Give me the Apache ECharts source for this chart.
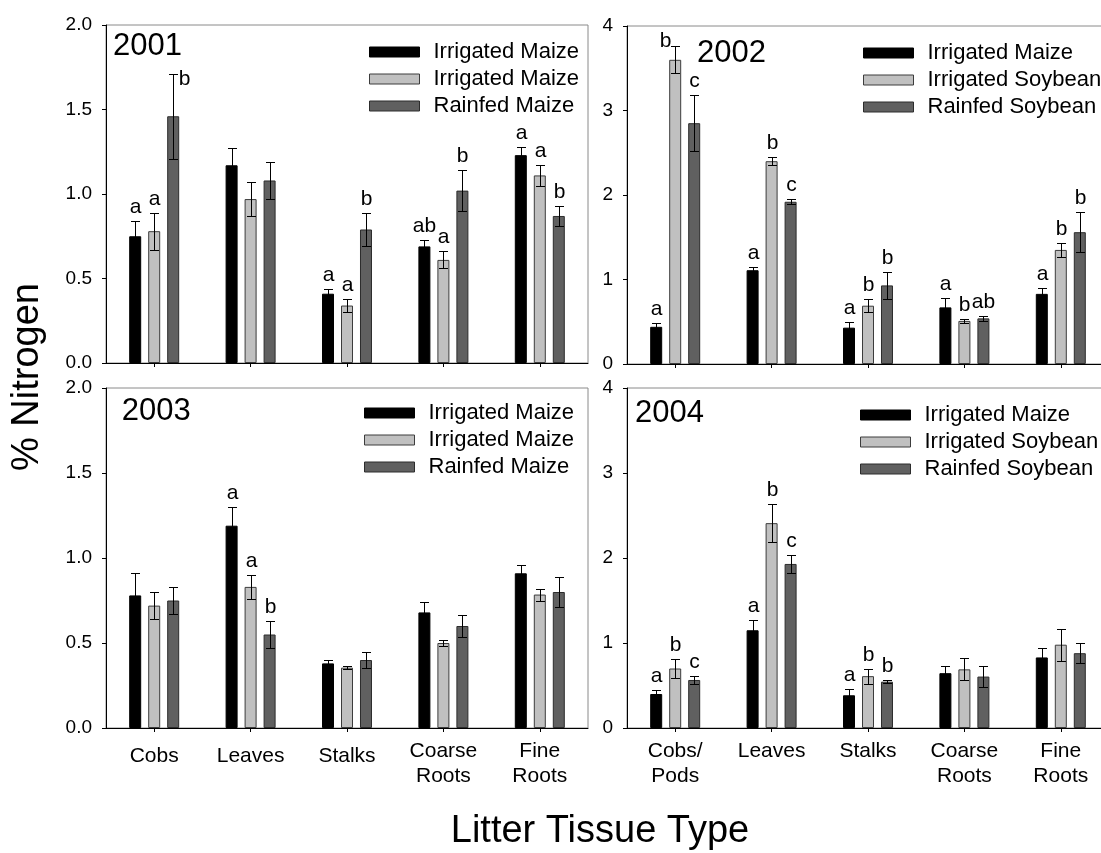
<!DOCTYPE html>
<html>
<head>
<meta charset="utf-8">
<title>% Nitrogen by litter tissue type</title>
<script src="https://cdn.jsdelivr.net/npm/echarts@6/dist/echarts.min.js"></script>
<style>
  html, body { margin: 0; padding: 0; background: #ffffff; }
  #chart { width: 1101px; height: 853px; }
</style>
</head>
<body>
<div id="chart"></div>
<script>
// ---- categories and tick labels ----
const tissuesMaize = ['Cobs', 'Leaves', 'Stalks', 'Coarse\nRoots', 'Fine\nRoots'];
const tissuesSoy = ['Cobs/\nPods', 'Leaves', 'Stalks', 'Coarse\nRoots', 'Fine\nRoots'];
const ticksHalf = ['0.0', '0.5', '1.0', '1.5', '2.0'];
const ticksWhole = ['0', '1', '2', '3', '4'];
const legendMaize = ['Irrigated Maize', 'Irrigated Maize', 'Rainfed Maize'];
const legendSoy = ['Irrigated Maize', 'Irrigated Soybean', 'Rainfed Soybean'];

// ---- 2001: mean % N and standard error ----
const irrMaizeA2001 = [0.75, 1.17, 0.41, 0.69, 1.23];
const irrMaizeA2001se = [0.09, 0.10, 0.03, 0.04, 0.05];
const irrMaizeB2001 = [0.78, 0.97, 0.34, 0.61, 1.11];
const irrMaizeB2001se = [0.11, 0.10, 0.04, 0.05, 0.06];
const rainMaize2001 = [1.46, 1.08, 0.79, 1.02, 0.87];
const rainMaize2001se = [0.25, 0.11, 0.10, 0.12, 0.06];
const sig2001 = [['a', '', 'a', 'ab', 'a'], ['a', '', 'a', 'a', 'a'], ['b', '', 'b', 'b', 'b']];

// ---- 2002 ----
const irrMaize2002 = [0.44, 1.11, 0.43, 0.67, 0.83];
const irrMaize2002se = [0.04, 0.04, 0.07, 0.11, 0.07];
const irrSoy2002 = [3.60, 2.40, 0.69, 0.51, 1.35];
const irrSoy2002se = [0.16, 0.05, 0.08, 0.02, 0.08];
const rainSoy2002 = [2.85, 1.92, 0.93, 0.54, 1.56];
const rainSoy2002se = [0.33, 0.03, 0.16, 0.03, 0.24];
const sig2002 = [['a', 'a', 'a', 'a', 'a'], ['b', 'b', 'b', 'b', 'b'], ['c', 'c', 'b', 'ab', 'b']];

// ---- 2003 ----
const irrMaizeA2003 = [0.78, 1.19, 0.38, 0.68, 0.91];
const irrMaizeA2003se = [0.13, 0.11, 0.02, 0.06, 0.05];
const irrMaizeB2003 = [0.72, 0.83, 0.355, 0.50, 0.785];
const irrMaizeB2003se = [0.08, 0.07, 0.01, 0.02, 0.035];
const rainMaize2003 = [0.75, 0.55, 0.40, 0.60, 0.80];
const rainMaize2003se = [0.08, 0.08, 0.045, 0.065, 0.09];
const sig2003 = [['', 'a', '', '', ''], ['', 'a', '', '', ''], ['', 'b', '', '', '']];

// ---- 2004 ----
const irrMaize2004 = [0.40, 1.15, 0.385, 0.645, 0.83];
const irrMaize2004se = [0.05, 0.115, 0.07, 0.085, 0.11];
const irrSoy2004 = [0.70, 2.41, 0.61, 0.69, 0.98];
const irrSoy2004se = [0.11, 0.22, 0.09, 0.13, 0.19];
const rainSoy2004 = [0.565, 1.93, 0.545, 0.605, 0.88];
const rainSoy2004se = [0.05, 0.105, 0.02, 0.125, 0.12];
const sig2004 = [['a', 'a', 'a', '', ''], ['b', 'b', 'b', '', ''], ['c', 'c', 'b', '', '']];

// ---- styling ----
const FONT = '"Liberation Sans", Arial, sans-serif';
const fills = ['#000000', '#c0c0c0', '#606060'];
const edges = ['#000000', '#3c3c3c', '#2c2c2c'];
const BAR_W = 12;
const BAR_STEP = 19;          // centre-to-centre distance of neighbouring bars
const CAP_HALF = 4.5;
const LETTER_SIZE = 21;

// letters that sit beside the cap instead of above it: [dx, dy]
const letterNudge = { '0-0-2': [11, 19], '1-0-1': [-10, 9] };

const panels = [
  { year: '2001', cats: tissuesMaize, names: legendMaize, ticks: ticksHalf, max: 2, step: 0.5,
    means: [irrMaizeA2001, irrMaizeB2001, rainMaize2001],
    errs: [irrMaizeA2001se, irrMaizeB2001se, rainMaize2001se], sig: sig2001,
    grid: { left: 106, top: 25, width: 482, height: 338 }, showCats: false,
    legend: { left: 369, top: 41 }, label: [113, 46.7] },
  { year: '2002', cats: tissuesSoy, names: legendSoy, ticks: ticksWhole, max: 4, step: 1,
    means: [irrMaize2002, irrSoy2002, rainSoy2002],
    errs: [irrMaize2002se, irrSoy2002se, rainSoy2002se], sig: sig2002,
    grid: { left: 627, top: 26, width: 482, height: 338 }, showCats: false,
    legend: { left: 863, top: 42 }, label: [697, 53.3] },
  { year: '2003', cats: tissuesMaize, names: legendMaize, ticks: ticksHalf, max: 2, step: 0.5,
    means: [irrMaizeA2003, irrMaizeB2003, rainMaize2003],
    errs: [irrMaizeA2003se, irrMaizeB2003se, rainMaize2003se], sig: sig2003,
    grid: { left: 106, top: 388, width: 482, height: 340 }, showCats: true, padSingle: 5,
    legend: { left: 364, top: 402 }, label: [121.7, 411.7] },
  { year: '2004', cats: tissuesSoy, names: legendSoy, ticks: ticksWhole, max: 4, step: 1,
    means: [irrMaize2004, irrSoy2004, rainSoy2004],
    errs: [irrMaize2004se, irrSoy2004se, rainSoy2004se], sig: sig2004,
    grid: { left: 627, top: 388, width: 482, height: 340 }, showCats: true, padSingle: 0,
    legend: { left: 860, top: 404 }, label: [635, 413.3] }
];

const grids = [], xAxes = [], yAxes = [], series = [], legends = [], graphics = [];
const legendText = {};

panels.forEach(function (p, pi) {
  grids.push(Object.assign({
    show: true, borderColor: '#8a8a8a', borderWidth: 1, backgroundColor: 'transparent',
    containLabel: false, outerBoundsMode: 'none'
  }, p.grid));

  xAxes.push({
    type: 'category', gridIndex: pi,
    data: p.cats.map(function (c) {
      const single = c.indexOf('\n') < 0;
      return { value: c, textStyle: { padding: [single ? (p.padSingle || 0) : 0, 0, 0, 0] } };
    }),
    axisLine: { show: true, lineStyle: { color: '#000', width: 1 } },
    axisTick: { show: true, alignWithLabel: true, length: 4, inside: false, lineStyle: { color: '#000' } },
    axisLabel: {
      show: p.showCats, interval: 0, color: '#000', fontFamily: FONT, fontSize: 21,
      lineHeight: 25, margin: 11, verticalAlign: 'top'
    },
    splitLine: { show: false }
  });

  yAxes.push({
    type: 'value', gridIndex: pi, min: 0, max: p.max, interval: p.step,
    axisLine: { show: true, lineStyle: { color: '#000', width: 1 } },
    axisTick: { show: true, length: 4, inside: false, lineStyle: { color: '#000' } },
    axisLabel: {
      color: '#000', fontFamily: FONT, fontSize: 19, margin: 14,
      formatter: function (v, i) { return p.ticks[i]; }
    },
    splitLine: { show: false }
  });

  const seriesNames = [];
  p.means.forEach(function (vals, k) {
    const nm = p.year + '#' + k;
    seriesNames.push(nm);
    legendText[nm] = p.names[k];
    series.push({
      type: 'bar', name: nm, xAxisIndex: pi, yAxisIndex: pi,
      data: vals, barWidth: BAR_W, barGap: ((BAR_STEP - BAR_W) / BAR_W * 100).toFixed(2) + '%',
      itemStyle: { color: fills[k], borderColor: edges[k], borderWidth: 1 },
      emphasis: { disabled: true }, animation: false
    });
  });

  // error bars with their significance letters
  const errData = [];
  for (let c = 0; c < p.cats.length; c++) {
    for (let k = 0; k < 3; k++) errData.push([c, k, p.means[k][c], p.errs[k][c]]);
  }
  series.push({
    type: 'custom', xAxisIndex: pi, yAxisIndex: pi, z: 10, clip: false, silent: true,
    animation: false, data: errData, encode: { x: 0, y: 2 },
    renderItem: function (params, api) {
      const c = api.value(0), k = api.value(1), m = api.value(2), e = api.value(3);
      const hi = api.coord([c, m + e]);
      const lo = api.coord([c, m - e]);
      const x = Math.round(hi[0] + (k - 1) * BAR_STEP) + 0.5;
      const yHi = Math.round(hi[1]) + 0.5, yLo = Math.round(lo[1]) + 0.5;
      const ls = { stroke: '#000', lineWidth: 1 };
      const kids = [
        { type: 'line', shape: { x1: x, y1: yHi, x2: x, y2: yLo }, style: ls },
        { type: 'line', shape: { x1: x - CAP_HALF, y1: yHi, x2: x + CAP_HALF, y2: yHi }, style: ls },
        { type: 'line', shape: { x1: x - CAP_HALF, y1: yLo, x2: x + CAP_HALF, y2: yLo }, style: ls }
      ];
      const letter = p.sig[k][c];
      if (letter) {
        const nudge = letterNudge[pi + '-' + c + '-' + k] || [0, 0];
        kids.push({
          type: 'text',
          style: {
            text: letter, x: x + nudge[0], y: yHi - 14.5 + nudge[1],
            fill: '#000', fontFamily: FONT, fontSize: LETTER_SIZE,
            align: 'center', verticalAlign: 'middle'
          }
        });
      }
      return { type: 'group', children: kids };
    }
  });

  legends.push({
    orient: 'vertical', left: p.legend.left, top: p.legend.top,
    data: seriesNames, icon: 'rect', itemWidth: 50, itemHeight: 10, itemGap: 5,
    selectedMode: false, padding: 0,
    itemStyle: { borderWidth: 1 },
    textStyle: { color: '#000', fontFamily: FONT, fontSize: 22, lineHeight: 22, padding: [0, 0, 0, 9] },
    formatter: function (n) { return legendText[n]; }
  });

  graphics.push({
    type: 'text', x: p.label[0], y: p.label[1], silent: true,
    style: { text: p.year, fill: '#000', font: '31px ' + FONT, align: 'left', verticalAlign: 'middle' }
  });
});

graphics.push({
  type: 'text', x: 28, y: 377, rotation: Math.PI / 2, silent: true,
  style: { text: '% Nitrogen', fill: '#000', font: '38px ' + FONT, align: 'center', verticalAlign: 'middle' }
});
graphics.push({
  type: 'text', x: 600, y: 832, silent: true,
  style: { text: 'Litter Tissue Type', fill: '#000', font: '38px ' + FONT, align: 'center', verticalAlign: 'middle' }
});

const chart = echarts.init(document.getElementById('chart'), null, { renderer: 'canvas', width: 1101, height: 853 });
chart.setOption({
  backgroundColor: '#ffffff',
  animation: false,
  textStyle: { fontFamily: FONT },
  grid: grids, xAxis: xAxes, yAxis: yAxes,
  legend: legends, series: series, graphic: graphics,
  tooltip: { show: false }
});
</script>
</body>
</html>
